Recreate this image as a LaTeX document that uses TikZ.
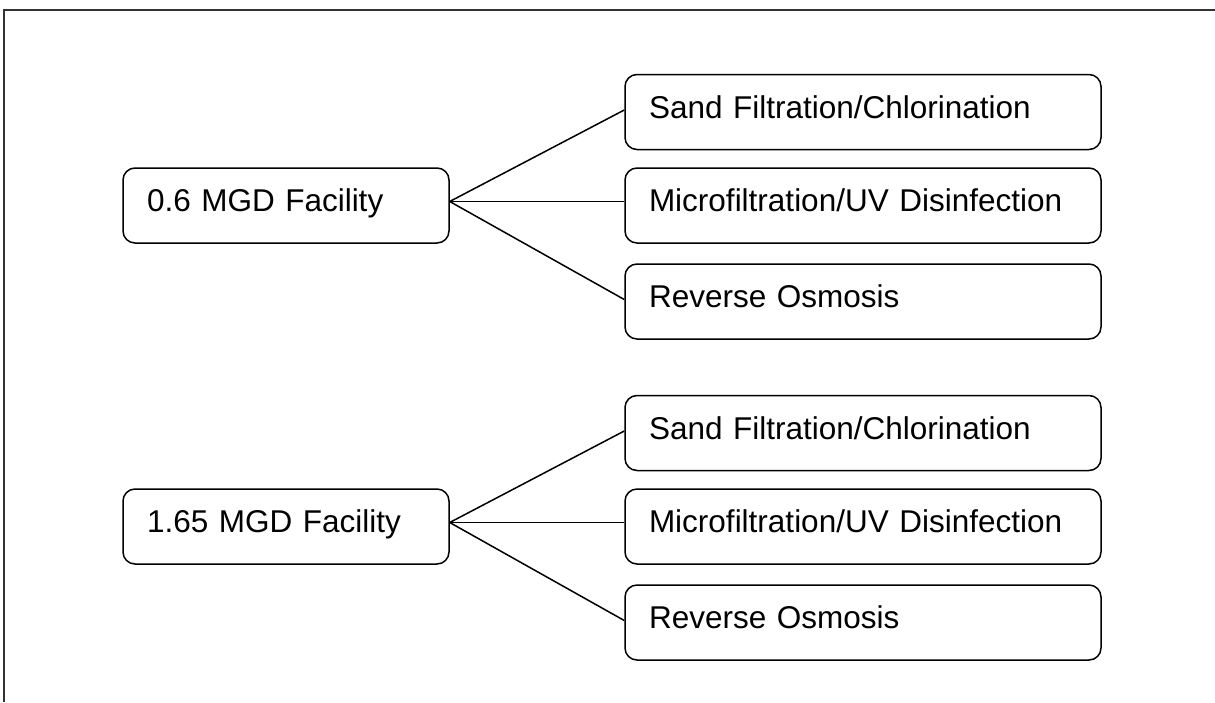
\documentclass[tikz,border=0pt]{standalone}
\usepackage{fontspec}
\setmainfont{Liberation Sans}
\begin{document}
\begin{tikzpicture}[x=1pt,y=-1pt,
  basebox/.style={draw=black,line width=1.5pt,rounded corners=12pt,inner ysep=0pt,inner xsep=24pt,
    minimum height=75pt,text height=31pt,text depth=19pt,align=left,
    font=\fontsize{31.5}{38}\selectfont},
  facbox/.style={basebox,text width=278pt},
  procbox/.style={basebox,text width=428pt},
  link/.style={line width=1.5pt,black}]
\useasboundingbox (0,0) rectangle (1215,702);
% frame
\draw[line width=2pt,black!80] (3.5,702) -- (3.5,10) -- (1215,10);
% top group
\node[facbox] (f1) at (286,205.5) {0.6 MGD Facility};
\node[procbox] (s1) at (863,112) {Sand Filtration/Chlorination};
\node[procbox] (m1) at (863,205.5) {Microfiltration/UV Disinfection};
\node[procbox] (r1) at (863,301.5) {Reverse Osmosis};
% bottom group
\node[facbox] (f2) at (286,526.5) {1.65 MGD Facility};
\node[procbox] (s2) at (863,433) {Sand Filtration/Chlorination};
\node[procbox] (m2) at (863,526.5) {Microfiltration/UV Disinfection};
\node[procbox] (r2) at (863,622.5) {Reverse Osmosis};
% connectors
\foreach \f/\a/\b/\c in {f1/s1/m1/r1,f2/s2/m2/r2}{
  \draw[link] ([yshift=4pt]\f.east) -- ([yshift=2pt]\a.west);
  \draw[link] ([yshift=4pt]\f.east) -- ([yshift=4pt]\b.west);
  \draw[link] ([yshift=4pt]\f.east) -- ([yshift=2pt]\c.west);
}
\end{tikzpicture}
\end{document}
